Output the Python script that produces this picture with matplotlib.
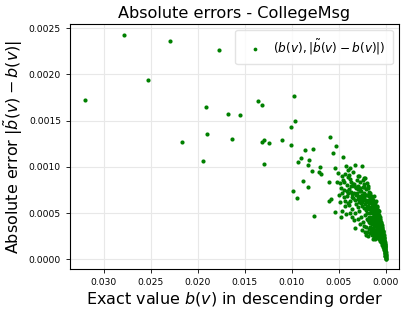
import matplotlib
matplotlib.use('Agg')
import matplotlib.pyplot as plt
import numpy as np

# exact betweenness b(v), in units of 1e-3
exact_far = [32.02, 27.84, 25.28, 22.91, 21.67, 19.43, 19.08, 18.97, 17.73, 16.81,
             16.38, 15.53, 13.62, 13.16, 13.16, 12.94, 12.98, 12.45, 10.99, 10.04,
             10.07, 9.79, 9.65, 9.89, 9.47, 9.33, 9.04, 8.80, 8.58, 8.23,
             8.16, 8.23, 7.84, 7.77, 7.62, 7.13, 6.99, 6.84, 6.00, 5.89,
             6.00, 5.85, 5.64, 5.25, 4.54, 5.35]
# absolute error, in units of 1e-4
err_far = [17.24, 24.21, 19.34, 23.56, 12.73, 10.64, 16.45, 13.56, 22.65, 15.73,
           12.99, 15.55, 17.06, 16.63, 12.63, 12.91, 10.28, 12.52, 12.84, 12.30,
           14.29, 17.68, 14.97, 7.43, 6.64, 10.53, 10.93, 8.51, 11.76, 10.21,
           10.75, 7.86, 9.49, 11.90, 4.69, 9.38, 9.92, 9.24, 8.30, 13.17,
           6.30, 6.50, 11.47, 12.27, 11.04, 5.09]

exact_mid = [5.43, 5.14, 5.10, 4.86, 4.79, 4.72, 4.60, 4.55, 4.47, 4.40, 4.35, 4.30,
             4.18, 4.10, 4.05, 4.00, 4.00, 4.25, 4.60, 4.90, 5.00,
             3.94, 3.90, 3.85, 3.80, 3.75, 3.70, 3.65, 3.60, 3.55, 3.50, 3.45, 3.40,
             3.35, 3.30, 3.23, 3.23, 3.20, 3.15, 3.10, 3.05, 3.00, 3.00, 3.60, 3.40, 3.80,
             2.95, 2.90, 2.87, 2.84, 2.80, 2.75, 2.70, 2.65, 2.60, 2.55, 2.50, 2.48,
             2.45, 2.41, 2.40, 2.38, 2.35, 2.30, 2.28, 2.25, 2.21, 2.20, 2.15, 2.13,
             2.10, 2.06, 2.05, 2.02, 2.00, 2.00, 2.70, 2.50, 2.30, 2.20, 2.90, 2.60,
             2.35, 2.10,
             4.42, 4.15, 3.98, 3.72, 3.52, 3.28, 3.12, 2.98, 2.78, 2.62, 2.44, 2.26,
             4.65, 4.38, 4.12, 3.88, 3.62, 3.38, 3.18, 2.93, 2.72, 2.52, 2.33, 2.17]
err_mid = [9.85, 8.40, 9.30, 6.24, 4.55, 7.68, 9.00, 8.60, 6.78, 7.50, 9.20, 5.80,
           10.03, 8.00, 9.60, 7.20, 6.10, 4.90, 5.20, 8.20, 7.00,
           9.13, 7.60, 8.70, 6.30, 9.90, 7.90, 8.40, 5.40, 7.10, 9.40, 6.60, 7.14,
           8.10, 5.00, 10.20, 3.35, 7.70, 6.00, 8.60, 7.20, 5.60, 9.00, 4.60, 4.20, 5.00,
           6.80, 7.90, 8.95, 6.24, 5.20, 7.40, 8.30, 6.10, 4.60, 7.00, 5.80, 10.03,
           8.60, 7.86, 6.50, 4.00, 5.50, 7.20, 8.80, 6.00, 8.77, 4.80, 6.90, 5.30,
           7.60, 2.63, 6.20, 4.40, 8.20, 5.70, 3.80, 3.20, 3.60, 3.00, 4.40, 6.80,
           6.60, 3.50,
           8.30, 6.80, 8.90, 7.30, 8.10, 6.40, 7.80, 6.50, 7.70, 7.40, 6.90, 7.80,
           7.20, 6.30, 7.40, 5.90, 6.70, 7.90, 6.90, 7.60, 6.50, 6.20, 8.10, 6.40]

exact_core = [1.98, 1.95, 1.92, 1.90, 1.88, 1.87, 1.85, 1.83, 1.80, 1.80, 1.78, 1.75,
              1.73, 1.70, 1.70, 1.68, 1.65, 1.63, 1.62, 1.60, 1.58, 1.57, 1.55, 1.53,
              1.52, 1.50, 1.50, 1.95, 1.85, 1.76, 1.66, 1.58,
              1.48, 1.47, 1.45, 1.44, 1.42, 1.40, 1.40, 1.38, 1.37, 1.35, 1.34, 1.32,
              1.30, 1.30, 1.28, 1.27, 1.25, 1.24, 1.22, 1.20, 1.20, 1.18, 1.17, 1.15,
              1.14, 1.12, 1.10, 1.10, 1.08, 1.07, 1.05, 1.04, 1.03, 1.02, 1.00, 1.00,
              1.00, 1.46, 1.36, 1.26, 1.16, 1.06,
              0.98, 0.97, 0.96, 0.95, 0.94, 0.93, 0.92, 0.90, 0.90, 0.89, 0.88, 0.87,
              0.85, 0.85, 0.84, 0.83, 0.82, 0.80, 0.80, 0.79, 0.78, 0.77, 0.76, 0.75,
              0.74, 0.73, 0.72, 0.71, 0.70, 0.70, 0.69, 0.68, 0.67, 0.66, 0.65, 0.64,
              0.63, 0.62, 0.61, 0.60, 0.60, 0.59, 0.58, 0.57, 0.56, 0.55, 0.54, 0.53,
              0.52, 0.51, 0.50, 0.50,
              0.49, 0.48, 0.47, 0.46, 0.45, 0.44, 0.43, 0.42, 0.41, 0.40, 0.40, 0.39,
              0.38, 0.37, 0.36, 0.35, 0.34, 0.33, 0.32, 0.31, 0.30, 0.30, 0.29, 0.28,
              0.27, 0.26, 0.25, 0.24, 0.23, 0.22, 0.21, 0.20, 0.20,
              0.19, 0.18, 0.17, 0.16, 0.15, 0.14, 0.13, 0.12, 0.11, 0.10, 0.10, 0.09,
              0.08, 0.07, 0.07, 0.06, 0.05, 0.05, 0.04, 0.03, 0.03, 0.02, 0.02, 0.01,
              0.01, 0.00, 0.00, 0.005, 0.00,
              0.92, 0.86, 0.81, 0.74, 0.68, 0.62, 0.57, 0.52, 0.47, 0.43, 0.38, 0.34,
              0.30, 0.26, 0.22, 0.18, 0.14, 0.11, 0.08, 0.06, 0.04,
              1.12, 1.03, 0.95, 0.88, 0.79, 0.71, 0.64, 0.58, 0.51, 0.45, 0.39, 0.33,
              0.28, 0.24, 0.19, 0.15, 0.12, 0.09]
err_core = [7.00, 5.00, 6.40, 7.90, 7.68, 4.20, 5.80, 6.80, 3.30, 7.30, 5.40, 6.10,
            4.60, 7.00, 2.80, 5.00, 6.50, 7.14, 3.90, 5.60, 4.30, 6.20, 3.20, 5.20,
            6.80, 4.60, 2.60, 3.00, 2.50, 4.00, 3.50, 2.90,
            6.00, 3.80, 5.40, 6.60, 4.20, 5.00, 2.80, 6.20, 3.40, 4.60, 5.70, 3.00,
            6.40, 4.00, 5.20, 2.40, 4.40, 5.90, 3.60, 4.80, 6.80, 2.60, 5.50, 3.90,
            4.50, 6.10, 3.20, 5.00, 4.10, 5.70, 2.80, 3.60, 4.70, 5.30, 3.00, 6.30,
            4.20, 3.00, 2.20, 3.20, 2.20, 2.30,
            4.90, 3.40, 5.60, 2.60, 4.30, 3.80, 5.10, 2.90, 4.60, 3.50, 5.80, 4.00,
            2.40, 4.80, 3.20, 5.30, 3.70, 4.40, 2.70, 5.00, 3.90, 3.30, 4.60, 2.20,
            4.10, 3.60, 5.20, 2.90, 4.30, 3.40, 4.80, 2.50, 3.80, 4.40, 3.10, 2.00,
            4.00, 3.50, 4.60, 2.70, 3.90, 3.20, 4.20, 2.30, 3.60, 4.00, 2.90, 3.40,
            1.90, 3.80, 2.60, 3.10,
            3.50, 2.20, 3.90, 2.80, 3.30, 1.80, 3.00, 3.70, 2.40, 3.20, 1.50, 2.70,
            3.50, 2.00, 2.90, 3.30, 1.60, 2.50, 3.00, 2.10, 2.70, 1.30, 3.10, 1.90,
            2.40, 2.80, 1.50, 2.20, 2.60, 1.70, 2.30, 1.10, 2.00,
            2.40, 1.50, 2.00, 1.20, 1.80, 2.10, 1.00, 1.60, 1.90, 0.80, 1.40, 1.70,
            1.10, 0.60, 1.40, 0.90, 1.20, 0.40, 0.70, 1.00, 0.30, 0.50, 0.80, 0.20,
            0.60, 0.10, 0.30, 0.05, 0.00,
            4.20, 3.90, 4.10, 3.80, 3.60, 3.70, 3.30, 3.50, 3.10, 3.40, 2.90, 3.10,
            2.60, 2.50, 2.30, 2.10, 1.80, 1.50, 1.30, 1.00, 0.70,
            5.30, 4.50, 4.40, 4.20, 4.10, 3.80, 3.60, 3.30, 3.20, 3.00, 2.80, 2.60,
            2.40, 2.00, 1.90, 1.70, 1.30, 1.10]

exact = np.array(exact_far + exact_mid + exact_core) * 1e-3
abs_err = np.array(err_far + err_mid + err_core) * 1e-4

fig = plt.figure(figsize=(4.07, 3.12), dpi=100)
ax = fig.add_axes([0.172, 0.137, 0.808, 0.786])

ax.scatter(exact, abs_err, s=9, color='green', linewidths=0,
           label=r'$(b(v), |\tilde{b}(v) - b(v)|)$', zorder=3)
ax.set_xlim(0.0336, -0.0014)
ax.set_ylim(-0.000108, 0.002543)
ax.set_xticks([0.030, 0.025, 0.020, 0.015, 0.010, 0.005, 0.000])
ax.set_yticks([0.0, 0.0005, 0.0010, 0.0015, 0.0020, 0.0025])
ax.set_xticklabels(['0.030', '0.025', '0.020', '0.015', '0.010', '0.005', '0.000'])
ax.set_yticklabels(['0.0000', '0.0005', '0.0010', '0.0015', '0.0020', '0.0025'])
ax.tick_params(labelsize=6.6, length=3, width=0.6)
ax.grid(color='#e8e8e8', linewidth=0.8, zorder=0)
for s in ax.spines.values():
    s.set_linewidth(0.8)

ax.set_title('Absolute errors - CollegeMsg', fontsize=11.6, pad=4)
ax.set_xlabel(r'Exact value $b(v)$ in descending order', fontsize=11.5, labelpad=2)
ax.set_ylabel(r'Absolute error $|\tilde{b}(v) - b(v)|$', fontsize=11.5, labelpad=3)
ax.legend(loc='upper right', fontsize=8.7, markerscale=0.9, handletextpad=0.5,
          borderpad=0.6, framealpha=0.8, edgecolor='#dddddd')

fig.savefig('out.png', dpi=100)
